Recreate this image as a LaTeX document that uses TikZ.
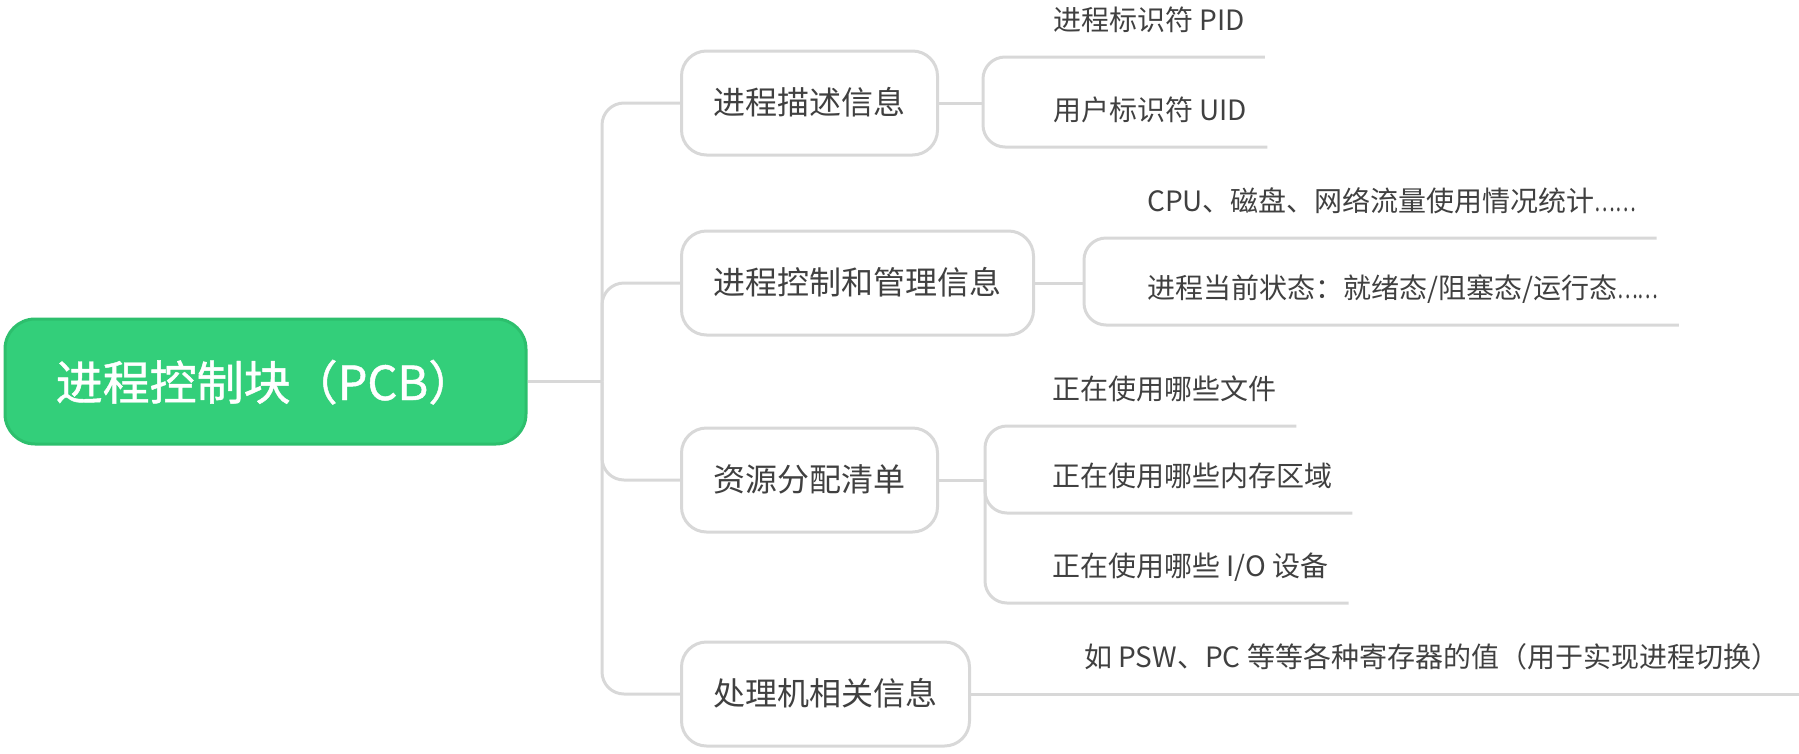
\documentclass[tikz,border=0pt]{standalone}
\usepackage{fontspec}
\usepackage{graphicx}
\setmainfont{Noto Sans CJK SC}
\newfontfamily\rootfont{Noto Sans CJK SC}[FakeBold=1]
\usetikzlibrary{calc}
\definecolor{pcbgreen}{HTML}{33CF7A}
\definecolor{pcbborder}{HTML}{2DBF6D}
\definecolor{linegray}{HTML}{D8D8D8}
\definecolor{txtgray}{HTML}{404040}
\newcommand{\tightdots}{\scalebox{0.7}[1]{……}}
\begin{document}
\begin{tikzpicture}[x=1pt,y=-1pt,
  rootbox/.style={draw=pcbborder, fill=pcbgreen, line width=3pt, rounded corners=30pt,
    minimum width=521pt, minimum height=125pt, text=white,
    font=\rootfont\fontsize{47}{56}\selectfont, inner sep=0pt,
    text height=40pt, text depth=3pt},
  topicbox/.style={draw=linegray, fill=white, line width=3pt, rounded corners=25pt,
    minimum height=104pt, inner xsep=32pt, inner ysep=0pt, text=txtgray,
    font=\fontsize{32}{38}\selectfont, anchor=west, text height=25pt, text depth=2pt},
  leaf/.style={anchor=west, inner sep=0pt, text=txtgray,
    font=\fontsize{28}{34}\selectfont, text height=23pt, text depth=2pt},
  conn/.style={draw=linegray, line width=3pt, rounded corners=22pt},
]
\useasboundingbox (0,0) rectangle (1799,753);

% junction points
\coordinate (j) at (602,381.5);
\coordinate (k1) at (983,103);
\coordinate (k2) at (1084,283);
\coordinate (k3) at (985,480);

% leaf texts
\node[leaf] (t11) at (1053,20) {进程标识符 PID};
\node[leaf] (t12) at (1053,110) {用户标识符 UID};
\node[leaf] (t21) at (1147,201) {CPU、磁盘、网络流量使用情况统计\tightdots};
\node[leaf] (t22) at (1147,288) {进程当前状态：就绪态/阻塞态/运行态\tightdots};
\node[leaf] (t31) at (1052,389) {正在使用哪些文件};
\node[leaf] (t32) at (1052,476) {正在使用哪些内存区域};
\node[leaf] (t33) at (1052,566) {正在使用哪些 I/O 设备};
\node[leaf] (t41) at (1084,657) {如 PSW、PC 等等各种寄存器的值（用于实现进程切换）};

% underline ends
\coordinate (e11) at ($(t11.east)+(20,37)$);
\coordinate (e12) at ($(t12.east)+(20,37)$);
\coordinate (e21) at ($(t21.east)+(20,37)$);
\coordinate (e22) at ($(t22.east)+(20,37)$);
\coordinate (e31) at ($(t31.east)+(20,37)$);
\coordinate (e32) at ($(t32.east)+(20,37)$);
\coordinate (e33) at ($(t33.east)+(20,37)$);
\coordinate (e41) at ($(t41.east)+(20,37)$);

% boxes
\node[rootbox] (root) at (265.5,381.5) {进程控制块（PCB）};
\node[topicbox] (b1) at (680,103) {进程描述信息};
\node[topicbox] (b2) at (680,283) {进程控制和管理信息};
\node[topicbox] (b3) at (680,480) {资源分配清单};
\node[topicbox] (b4) at (680,694) {处理机相关信息};

% main connectors
\draw[conn] (root.east) -- (j);
\draw[conn] (j) |- (b1.west);
\draw[conn] (j) |- (b2.west);
\draw[conn] (j) |- (b3.west);
\draw[conn] (j) |- (b4.west);

% child connectors
\draw[conn] (b1.east) -- (k1);
\draw[conn] (k1) |- (e11);
\draw[conn] (k1) |- (e12);
\draw[conn] (b2.east) -- (k2);
\draw[conn] (k2) |- (e21);
\draw[conn] (k2) |- (e22);
\draw[conn] (b3.east) -- (k3);
\draw[conn] (k3) |- (e31);
\draw[conn] (k3) |- (e32);
\draw[conn] (k3) |- (e33);
\draw[conn] (b4.east) -- (e41);
\end{tikzpicture}
\end{document}
